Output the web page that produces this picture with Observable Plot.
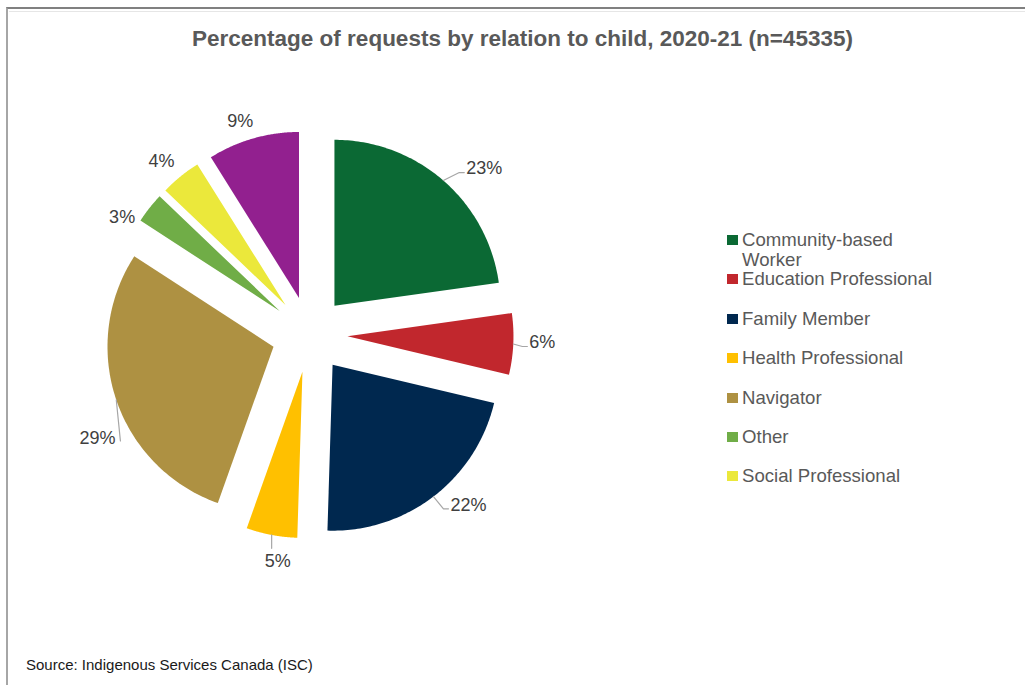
<!DOCTYPE html>
<html>
<head>
<meta charset="utf-8">
<script src="https://cdn.jsdelivr.net/npm/d3@7"></script>
<script src="https://cdn.jsdelivr.net/npm/@observablehq/plot@0.6"></script>
<style>
  html, body { margin: 0; padding: 0; background: #fff; }
  body { width: 1025px; height: 685px; position: relative; overflow: hidden; font-family: "Liberation Sans", Arial, sans-serif; }
  #frame { position: absolute; left: 6px; top: 7px; right: -10px; bottom: -10px; border-top: 2px solid #808080; border-left: 2px solid #a6a6a6; }
  #frame2 { position: absolute; left: 9px; top: 11px; right: -10px; height: 0; border-top: 1px solid #e6e6e6; }
  #title { position: absolute; left: 10px; top: 26px; width: 1025px; text-align: center; font-weight: bold; font-size: 22.5px; color: #595959; line-height: 26px; }
  #chart { position: absolute; left: 0; top: 60px; }
  #legend { position: absolute; left: 727px; top: 0; }
  .row { position: absolute; left: 0; width: 280px; }
  .sw { position: absolute; left: 0; width: 11px; height: 10px; }
  .lt { position: absolute; left: 15px; width: 205px; font-size: 18.6px; line-height: 20px; color: #595959; }
  #source { position: absolute; left: 26px; top: 656px; font-size: 15px; color: #1a1a1a; }
</style>
</head>
<body>
<div id="frame"></div>
<div id="frame2"></div>
<div id="title">Percentage of requests by relation to child, 2020-21 (n=45335)</div>
<div id="chart"></div>
<div id="legend"></div>
<div id="source">Source: Indigenous Services Canada (ISC)</div>
<script>
// ---- data ----
const categories = ["Community-based Worker", "Education Professional", "Family Member", "Health Professional", "Navigator", "Other", "Social Professional", "Unspecified"];
const values = [23, 6, 22, 5, 29, 3, 4, 9];
const valueLabels = ["23%", "6%", "22%", "5%", "29%", "3%", "4%", "9%"];
const colors = ["#0b6934", "#c1272d", "#00284f", "#ffc000", "#ae9142", "#70ad47", "#ebe83b", "#92208f"];
const legendCategories = categories.slice(0, 7);

// ---- layout ----
const W = 700, H = 560, CX = 309, CY = 274;
const R = 166, EXPLODE = 38;
const labelNudge = [5.5, -0.7, -5.6, -2.7, -7.3, -6.3, -1.3, -2];
const labelDist = [241, 233, 233, 229, 236, 221, 228, 224];
const leaderSide = ["right", "right", "right", "bottom", "left", null, null, null];
const LABEL_FS = 18;

const arcs = d3.pie().sort(null).value(d => d)(values);

const sliceRows = [];
const labelRows = [];
const leaderRows = [];
arcs.forEach((a, i) => {
  const mid = (a.startAngle + a.endAngle) / 2;
  const ox = EXPLODE * Math.sin(mid), oy = EXPLODE * Math.cos(mid);
  sliceRows.push({cat: categories[i], x: ox, y: oy});
  const n = 90;
  for (let k = 0; k <= n; k++) {
    const t = a.startAngle + (a.endAngle - a.startAngle) * k / n;
    sliceRows.push({cat: categories[i], x: ox + R * Math.sin(t), y: oy + R * Math.cos(t)});
  }
  const ang = mid + labelNudge[i] * Math.PI / 180;
  const L = {x: labelDist[i] * Math.sin(ang), y: labelDist[i] * Math.cos(ang)};
  labelRows.push({text: valueLabels[i], x: L.x, y: L.y});
  const S = {x: (R + EXPLODE) * Math.sin(mid), y: (R + EXPLODE) * Math.cos(mid)};
  const w = ((valueLabels[i].length - 1) * 0.556 + 0.889) * LABEL_FS;
  const side = leaderSide[i];
  let pts = null;
  if (side === "right") {
    const E = {x: L.x - w / 2 - 2, y: L.y - 4};
    pts = [S, {x: E.x - 5, y: E.y}, E];
  } else if (side === "bottom") {
    pts = [S, {x: S.x, y: L.y + 13}];
  } else if (side === "left") {
    pts = [S, {x: L.x + w / 2 + 5, y: L.y - 3}];
  }
  if (pts) pts.forEach(p => leaderRows.push({id: i, x: p.x, y: p.y}));
});

const chart = Plot.plot({
  width: W,
  height: H,
  margin: 0,
  x: {domain: [-CX, W - CX], axis: null},
  y: {domain: [-(H - CY), CY], axis: null},
  color: {domain: categories, range: colors},
  style: {background: "transparent", fontFamily: "Liberation Sans, Arial, sans-serif"},
  marks: [
    Plot.line(sliceRows, {x: "x", y: "y", z: "cat", fill: "cat", stroke: null, curve: "linear-closed"}),
    Plot.line(leaderRows, {x: "x", y: "y", z: "id", stroke: "#a6a6a6", strokeWidth: 1.2}),
    Plot.text(labelRows, {x: "x", y: "y", text: "text", fontSize: LABEL_FS, fill: "#404040", textAnchor: "middle"})
  ]
});
document.getElementById("chart").appendChild(chart);

// legend
const legend = document.getElementById("legend");
legendCategories.forEach((c, i) => {
  const centerY = 240 + 39.4 * i;
  const row = document.createElement("div");
  row.className = "row";
  row.style.top = (centerY - 10) + "px";
  const sw = document.createElement("div");
  sw.className = "sw";
  sw.style.top = "5px";
  sw.style.background = colors[categories.indexOf(c)];
  const lt = document.createElement("div");
  lt.className = "lt";
  lt.style.top = "0px";
  lt.textContent = c;
  row.appendChild(sw);
  row.appendChild(lt);
  legend.appendChild(row);
});
</script>
</body>
</html>
